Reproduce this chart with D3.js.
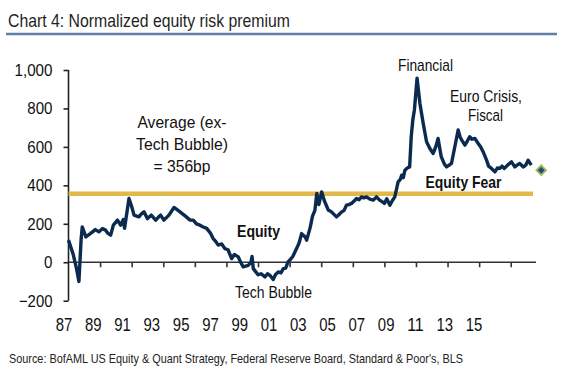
<!DOCTYPE html>
<html>
<head>
<meta charset="utf-8">
<script src="https://cdn.jsdelivr.net/npm/d3@7"></script>
<style>
  body { margin: 0; background: #fff; }
  svg { display: block; font-family: "Liberation Sans", Arial, sans-serif; }
</style>
</head>
<body>
<div id="chart"></div>
<script>
// normalized equity risk premium, bp
var years = [1987.0, 1987.3, 1987.5, 1987.66, 1987.8, 1987.87, 1988.1, 1988.4, 1988.7, 1988.93,
  1989.15, 1989.35, 1989.5, 1989.67, 1989.84, 1990.1, 1990.3, 1990.47, 1990.55, 1990.7,
  1990.83, 1991.0, 1991.15, 1991.46, 1991.6, 1991.78, 1992.0, 1992.24, 1992.52, 1992.7,
  1992.83, 1993.04, 1993.36, 1993.68, 1993.85, 1994.06, 1994.4, 1994.7, 1994.9, 1995.1,
  1995.32, 1995.5, 1995.75, 1996.0, 1996.16, 1996.3, 1996.48, 1996.7, 1996.9, 1997.1,
  1997.33, 1997.5, 1997.75, 1997.9, 1998.06, 1998.38, 1998.55, 1998.62, 1998.7, 1999.0,
  1999.2, 1999.44, 1999.6, 1999.75, 1999.96, 2000.1, 2000.28, 2000.45, 2000.6, 2000.75,
  2000.9, 2001.0, 2001.2, 2001.44, 2001.6, 2001.76, 2002.0, 2002.08, 2002.3, 2002.45,
  2002.6, 2002.72, 2002.85, 2003.03, 2003.2, 2003.45, 2003.6, 2003.76, 2003.97, 2004.15,
  2004.3, 2004.45, 2004.6, 2004.75, 2004.92, 2005.1, 2005.24, 2005.4, 2005.55, 2005.7,
  2005.87, 2006.05, 2006.3, 2006.5, 2006.7, 2006.85, 2007.0, 2007.15, 2007.35, 2007.5,
  2007.66, 2007.87, 2008.0, 2008.1, 2008.2, 2008.3, 2008.45, 2008.6, 2008.7, 2008.8,
  2008.9, 2009.07, 2009.25, 2009.46, 2009.67, 2009.88, 2010.09, 2010.25, 2010.4, 2010.6,
  2010.8, 2010.94, 2011.1, 2011.25, 2011.46, 2011.67, 2011.8, 2011.9, 2012.1, 2012.25,
  2012.4, 2012.55, 2012.73, 2012.94, 2013.1, 2013.25, 2013.47, 2013.6, 2013.78, 2014.0,
  2014.15, 2014.3, 2014.45, 2014.6, 2014.8, 2015.05, 2015.26, 2015.4, 2015.57, 2015.8,
  2015.95, 2016.1, 2016.3];
var erp = [115, 40, -30, -100, 120, 184, 132, 150, 170, 158,
  175, 167, 150, 141, 193, 219, 193, 222, 177, 260,
  332, 290, 245, 236, 250, 262, 227, 245, 219, 235,
  245, 219, 245, 285, 275, 262, 240, 219, 219, 200,
  193, 185, 176, 150, 123, 110, 89, 95, 71, 65,
  19, 40, 28, 0, -24, -16, 0, 30, -33, -65,
  -60, -76, -60, -68, -90, -65, -50, -55, -33, -30,
  2, 10, 30, 71, 100, 149, 130, 115, 180, 240,
  270, 358, 300, 366, 320, 271, 265, 253, 236, 250,
  262, 270, 297, 300, 306, 320, 332, 325, 340, 335,
  340, 330, 323, 340, 323, 315, 306, 330, 297, 320,
  340, 418, 430, 453, 440, 479, 490, 496, 653, 740,
  792, 957, 826, 722, 627, 592, 566, 600, 644, 549,
  510, 496, 505, 514, 601, 688, 650, 635, 609, 630,
  653, 640, 644, 618, 600, 575, 531, 500, 488, 470,
  490, 488, 500, 488, 505, 522, 496, 505, 514, 496,
  505, 531, 505];
var latest = [2016.93, 479];
var average = 356;
var yTicks = [-200, 0, 200, 400, 600, 800, 1000];
var xTickYears = [1987, 1989, 1991, 1993, 1995, 1997, 1999, 2001, 2003, 2005, 2007, 2009, 2011, 2013, 2015];
var xLabels = ["87", "89", "91", "93", "95", "97", "99", "01", "03", "05", "07", "09", "11", "13", "15"];

var W = 564, H = 381;
var navy = "#0b2a50", gold = "#e1b84a";

var svg = d3.select("#chart").append("svg")
    .attr("width", W)
    .attr("height", H);

// squeeze text to a width (the original font is condensed)
function fit(sel, w) {
    sel.attr("textLength", w).attr("lengthAdjust", "spacingAndGlyphs");
}

// title + rule
svg.append("text")
    .attr("x", 8).attr("y", 27)
    .style("font-size", "19px")
    .style("fill", "#1f1f1f")
    .text("Chart 4: Normalized equity risk premium")
    .call(fit, 282);
svg.append("line")
    .attr("x1", 6).attr("x2", 557)
    .attr("y1", 34).attr("y2", 34)
    .style("stroke", "#5f7fab")
    .style("stroke-width", 2.5);

var x = d3.scaleLinear().domain([1987, 2016.6]).range([68.5, 536]);
var y = d3.scaleLinear().domain([-200, 1000]).range([300.7, 70]);
var xLab = d3.scalePoint().domain(xLabels).range([64, 474]);

// y axis
var yAxis = svg.append("g")
    .attr("transform", "translate(68.5,0)")
    .call(d3.axisLeft(y).tickValues(yTicks).tickSize(5).tickPadding(11)
        .tickFormat(d3.format(",")));
yAxis.select(".domain").attr("d", "M0," + y(-200) + "V" + y(1000));
yAxis.selectAll("path, line").style("stroke", "#222").style("stroke-width", 1.6);
yAxis.selectAll("text")
    .style("font-size", "17px")
    .style("fill", "#111")
    .attr("font-family", null)
    .each(function(d) {
        d3.select(this).call(fit, d3.format(",")(d).length * 8.4 - (d >= 1000 ? 4 : 0));
    });

// zero line with 2-year ticks
var xAxis = svg.append("g")
    .attr("transform", "translate(0," + y(0) + ")")
    .call(d3.axisBottom(x).tickValues(xTickYears.slice(1)).tickSize(5).tickFormat(""));
xAxis.selectAll("path, line").style("stroke", "#333").style("stroke-width", 1.6);
xAxis.select(".domain").attr("d", "M" + x(1987) + ",0H" + x.range()[1]);

// category labels along the bottom
svg.append("g").selectAll("text")
    .data(xLabels)
    .enter().append("text")
    .attr("x", function(d) { return xLab(d) - 8.3; })
    .attr("y", 331)
    .style("font-size", "19px")
    .style("fill", "#111")
    .text(function(d) { return d; })
    .call(fit, 16.6);

// average line
svg.append("line")
    .attr("x1", x(1987)).attr("x2", 533)
    .attr("y1", y(average)).attr("y2", y(average))
    .style("stroke", gold)
    .style("stroke-width", 4.5);

// series
var pts = years.map(function(d, i) { return [d, erp[i]]; });
svg.append("path")
    .datum(pts)
    .attr("d", d3.line()
        .x(function(d) { return x(d[0]); })
        .y(function(d) { return y(d[1]); }))
    .style("fill", "none")
    .style("stroke", navy)
    .style("stroke-width", 3.4)
    .style("stroke-linejoin", "round");

// latest point
svg.append("path")
    .attr("d", d3.symbol(d3.symbolSquare, 46)())
    .attr("transform", "translate(" + x(latest[0]) + "," + y(latest[1]) + ") rotate(45)")
    .style("fill", "#2a4a78")
    .style("stroke", "#9bbd5a")
    .style("stroke-width", 1.8);

// annotations
var notes = [
    {t: "Average (ex-", x: 182, y: 128, w: 89, b: false},
    {t: "Tech Bubble)", x: 182, y: 150, w: 92, b: false},
    {t: "= 356bp", x: 182, y: 172, w: 57, b: false},
    {t: "Equity", x: 258.5, y: 237, w: 43, b: true},
    {t: "Tech Bubble", x: 273.5, y: 298, w: 77, b: false},
    {t: "Financial", x: 425.5, y: 71, w: 55, b: false},
    {t: "Euro Crisis,", x: 486, y: 102, w: 72, b: false},
    {t: "Fiscal", x: 485.5, y: 121, w: 35, b: false},
    {t: "Equity Fear", x: 463.5, y: 188, w: 76, b: true}
];
svg.append("g").selectAll("text")
    .data(notes)
    .enter().append("text")
    .attr("x", function(d) { return d.x - d.w / 2; })
    .attr("y", function(d) { return d.y; })
    .style("font-size", "17px")
    .style("font-weight", function(d) { return d.b ? "bold" : "normal"; })
    .style("fill", "#111")
    .text(function(d) { return d.t; })
    .each(function(d) { d3.select(this).call(fit, d.w); });

// source
svg.append("text")
    .attr("x", 9).attr("y", 363)
    .style("font-size", "13px")
    .style("fill", "#222")
    .text("Source: BofAML US Equity & Quant Strategy, Federal Reserve Board, Standard & Poor's, BLS")
    .call(fit, 454);
</script>
</body>
</html>
